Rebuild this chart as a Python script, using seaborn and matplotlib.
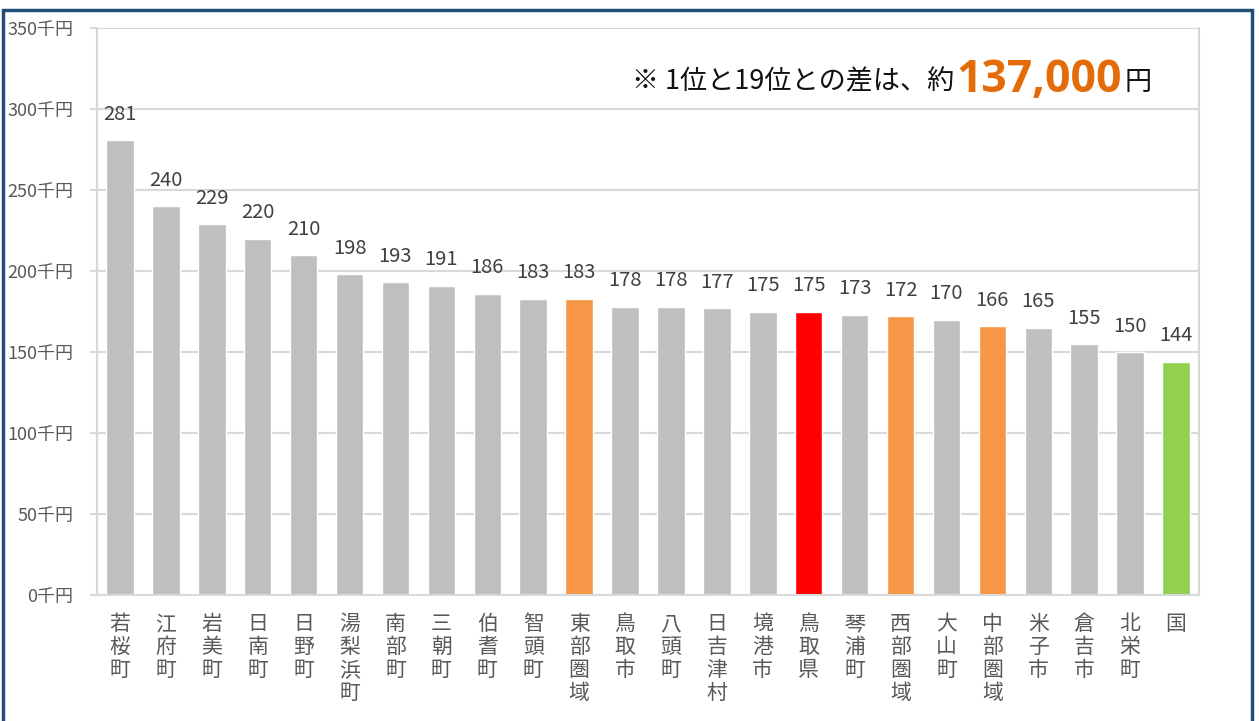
import matplotlib
matplotlib.use("Agg")
import matplotlib.pyplot as plt
import seaborn as sns
import pandas as pd
import numpy as np
from matplotlib.patches import Rectangle

categories = ["若桜町", "江府町", "岩美町", "日南町", "日野町", "湯梨浜町", "南部町", "三朝町",
              "伯耆町", "智頭町", "東部圏域", "鳥取市", "八頭町", "日吉津村", "境港市", "鳥取県",
              "琴浦町", "西部圏域", "大山町", "中部圏域", "米子市", "倉吉市", "北栄町", "国"]
values = [281, 240, 229, 220, 210, 198, 193, 191, 186, 183, 183, 178, 178, 177, 175, 175,
          173, 172, 170, 166, 165, 155, 150, 144]
groups = ["町村", "町村", "町村", "町村", "町村", "町村", "町村", "町村", "町村", "町村", "圏域",
          "町村", "町村", "町村", "町村", "県", "町村", "圏域", "町村", "圏域", "町村", "町村", "町村", "国"]
palette = {"町村": "#BFBFBF", "圏域": "#F79646", "県": "#FF0000", "国": "#92D050"}
yticks = [0, 50, 100, 150, 200, 250, 300, 350]
ytick_labels = [f"{v}千円" for v in yticks]

sns.set_theme(style="white")
plt.rcParams['font.family'] = ['Noto Sans CJK JP', 'DejaVu Sans']

df = pd.DataFrame({"cat": categories, "val": values, "grp": groups})

fig = plt.figure(figsize=(12.59, 7.21), dpi=100)
ax = fig.add_axes([97/1259, 1-595/721, (1199-97)/1259, (595-28)/721])

sns.barplot(data=df, x="cat", y="val", hue="grp", palette=palette, dodge=False,
            width=0.6, legend=False, ax=ax, order=categories, saturation=1)

ax.set_ylim(0, 350)
ax.set_xlim(-0.5, len(categories) - 0.5)
ax.set_yticks(yticks)
ax.set_yticklabels(ytick_labels, fontsize=13, color="#595959")
ax.yaxis.grid(True, color="#D9D9D9", linewidth=1.5)
ax.set_axisbelow(True)
ax.set_xlabel("")
ax.set_ylabel("")

ax.set_xticks(range(len(categories)))
ax.set_xticklabels(["\n".join(c) for c in categories], fontsize=15, color="#595959",
                   linespacing=1.05, va="top")
ax.tick_params(axis="x", which="major", length=0, pad=13)
ax.set_xticks(np.arange(-0.5, len(categories), 1.0), minor=True)
ax.tick_params(axis="x", which="minor", length=7, width=1.5, color="#D9D9D9", direction="out")
ax.tick_params(axis="y", which="major", length=5, width=1.5, color="#D9D9D9", direction="out", pad=12,
               left=True)

for side in ["left", "bottom", "right"]:
    ax.spines[side].set_color("#D9D9D9")
    ax.spines[side].set_linewidth(1.5)
ax.spines["top"].set_visible(False)

for i, v in enumerate(values):
    ax.annotate(str(v), (i, v), xytext=(0, 11), textcoords="offset points",
                ha="center", va="bottom", fontsize=14.5, color="#404040")

# annotation
t1 = fig.text(632/1259, 1-82/721, "※ 1位と19位との差は、約", fontsize=19.5, color="#111111",
              ha="left", va="center")
fig.canvas.draw()
r = fig.canvas.get_renderer()
bb = t1.get_window_extent(r)
t2 = fig.text(bb.x1/1259 + 0.002, 1-80/721, "137,000", fontsize=32, color="#E36C09",
              fontweight="bold", ha="left", va="center", family=["Open Sans", "DejaVu Sans"])
bb2 = t2.get_window_extent(r)
fig.text(bb2.x1/1259 + 0.002, 1-82/721, "円", fontsize=19.5, color="#111111", ha="left", va="center")

# figure border
fig.patches.append(Rectangle((3/1259, -0.01), (1252-3)/1259, 1-10/721 + 0.01,
                             transform=fig.transFigure, fill=False, edgecolor="#1F4E79",
                             linewidth=2.5))

fig.savefig("out.png", dpi=100)
